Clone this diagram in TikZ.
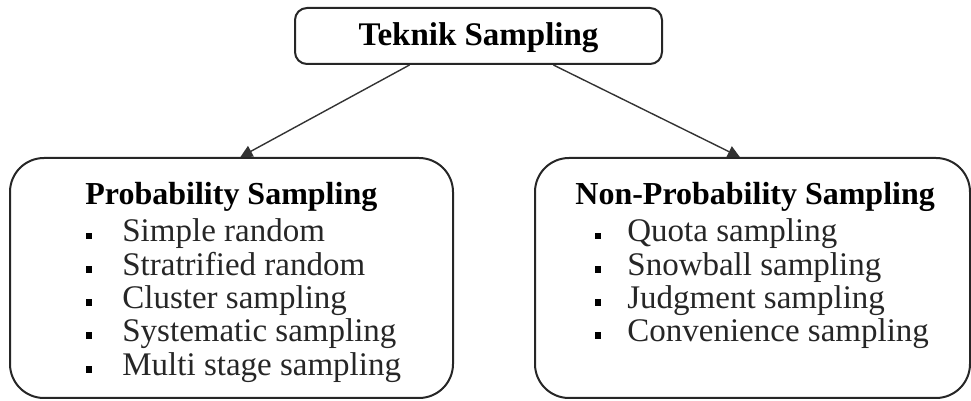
\documentclass[tikz,border=0pt]{standalone}
\usepackage{fontspec}
\setmainfont{Liberation Serif}
\usetikzlibrary{arrows.meta,calc}

\begin{document}
\begin{tikzpicture}[
  x=0.5pt,
  y=-0.5pt,
  font=\fontsize{16.5}{18}\selectfont,
  box/.style={draw=black!85, line width=1pt, rounded corners=17pt, inner sep=0pt},
  head/.style={anchor=base west, font=\fontsize{16}{18}\selectfont\bfseries, inner sep=0pt},
  item/.style={anchor=base west, inner sep=0pt, text=black!85},
  dot/.style={fill=black, minimum size=3.4pt, inner sep=0pt},
  arr/.style={line width=0.7pt, black!80, -{Triangle[width=6pt,length=6pt]}}
]
\useasboundingbox (0,0) rectangle (971,401);

% top box
\node[box, rounded corners=6pt, minimum width=183.5pt, minimum height=28pt] (top) at (478.5,36) {};
\node[anchor=base, font=\fontsize{16.5}{18}\selectfont\bfseries, inner sep=0pt] (toplbl) at (478.5,46) {Teknik Sampling};

% lower boxes
\node[box, minimum width=221.5pt, minimum height=120pt] (prob) at (231.5,278) {};
\node[box, minimum width=217.5pt, minimum height=120pt] (nonprob) at (752.5,278) {};

% probability sampling
\node[head] (probhead) at (85,205) {Probability Sampling};
\foreach \i/\txt in {0/Simple random,1/Stratrified random,2/Cluster sampling,3/Systematic sampling,4/Multi stage sampling} {
  \node[dot] (pd\i) at (89,{236+33.3*\i}) {};
  \node[item] (pi\i) at (122,{242+33.3*\i}) {\txt};
}

% non-probability sampling
\node[head] (nonhead) at (575,205) {Non-Probability Sampling};
\foreach \i/\txt in {0/Quota sampling,1/Snowball sampling,2/Judgment sampling,3/Convenience sampling} {
  \node[dot] (nd\i) at (598,{236+33.3*\i}) {};
  \node[item] (ni\i) at (627,{242+33.3*\i}) {\txt};
}

% connectors
\draw[arr] ($(top.south west)!0.313!(top.south east)$) -- ($(prob.north west)!0.52!(prob.north east)$);
\draw[arr] ($(top.south west)!0.703!(top.south east)$) -- ($(nonprob.north west)!0.471!(nonprob.north east)$);
\end{tikzpicture}
\end{document}
